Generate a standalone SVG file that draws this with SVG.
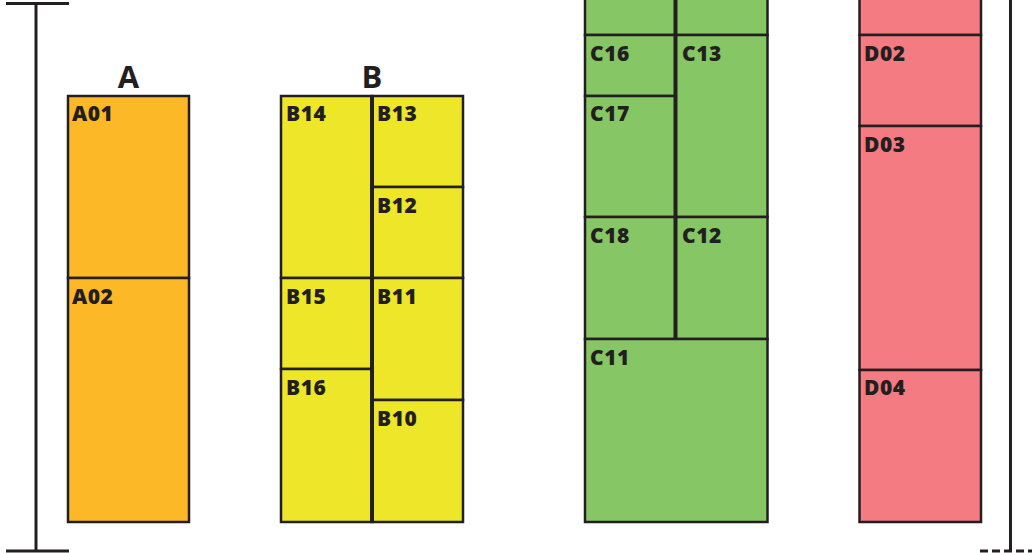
<svg xmlns="http://www.w3.org/2000/svg" width="1032" height="553" viewBox="0 0 1032 553">
<style>
.ln{stroke:#231f20;stroke-width:3;fill:none}
.div{stroke:#231f20;stroke-width:4;fill:none}
.cell{stroke:#231f20;stroke-width:2.5}
.a{fill:#fdb827}.b{fill:#ede629}.c{fill:#86c665}.d{fill:#f37b81}
.lbl{font-family:"Open Sans","Liberation Sans",sans-serif;font-weight:800;font-size:21px;fill:#231f20;letter-spacing:0.5px}
.hdr{font-family:"Open Sans","Liberation Sans",sans-serif;font-weight:700;font-size:31px;fill:#231f20;text-anchor:middle}
</style>
<g id="scale">
<line class="ln" x1="6" y1="3.5" x2="69" y2="3.5"/>
<line class="ln" x1="36" y1="3.5" x2="36" y2="551"/>
<line class="ln" x1="6" y1="551" x2="69" y2="551"/>
<line class="ln" x1="1010.5" y1="0" x2="1010.5" y2="551"/>
<line class="ln" x1="980" y1="551" x2="1032" y2="551" stroke-dasharray="8 4"/>
</g>
<g id="headers">
<text class="hdr" x="128.5" y="88">A</text>
<text class="hdr" x="372" y="88">B</text>
</g>
<g id="A01"><rect class="cell a" x="68" y="96" width="121" height="182"/><text class="lbl" x="72" y="120.5">A01</text></g>
<g id="A02"><rect class="cell a" x="68" y="278" width="121" height="244"/><text class="lbl" x="72" y="303.5">A02</text></g>
<g id="B14"><rect class="cell b" x="281" y="96" width="91" height="182"/><text class="lbl" x="286" y="120.5">B14</text></g>
<g id="B15"><rect class="cell b" x="281" y="278" width="91" height="91"/><text class="lbl" x="286" y="303.5">B15</text></g>
<g id="B16"><rect class="cell b" x="281" y="369" width="91" height="153"/><text class="lbl" x="286" y="394.5">B16</text></g>
<g id="B13"><rect class="cell b" x="372" y="96" width="91" height="91"/><text class="lbl" x="377" y="120.5">B13</text></g>
<g id="B12"><rect class="cell b" x="372" y="187" width="91" height="91"/><text class="lbl" x="377" y="212.5">B12</text></g>
<g id="B11"><rect class="cell b" x="372" y="278" width="91" height="122"/><text class="lbl" x="377" y="303.5">B11</text></g>
<g id="B10"><rect class="cell b" x="372" y="400" width="91" height="122"/><text class="lbl" x="377" y="425.5">B10</text></g>
<g id="C-top-left"><rect class="cell c" x="585" y="-10" width="90.5" height="45"/></g>
<g id="C-top-right"><rect class="cell c" x="675.5" y="-10" width="92" height="45"/></g>
<g id="C16"><rect class="cell c" x="585" y="35" width="90.5" height="61"/><text class="lbl" x="590" y="60.5">C16</text></g>
<g id="C17"><rect class="cell c" x="585" y="96" width="90.5" height="121"/><text class="lbl" x="590" y="120.5">C17</text></g>
<g id="C18"><rect class="cell c" x="585" y="217" width="90.5" height="122"/><text class="lbl" x="590" y="242.5">C18</text></g>
<g id="C13"><rect class="cell c" x="675.5" y="35" width="92" height="182"/><text class="lbl" x="682" y="60.5">C13</text></g>
<g id="C12"><rect class="cell c" x="675.5" y="217" width="92" height="122"/><text class="lbl" x="682" y="242.5">C12</text></g>
<g id="C11"><rect class="cell c" x="585" y="339" width="182.5" height="183"/><text class="lbl" x="590" y="364.5">C11</text></g>
<g id="D-top"><rect class="cell d" x="859.5" y="-10" width="121.5" height="45"/></g>
<g id="D02"><rect class="cell d" x="859.5" y="35" width="121.5" height="91"/><text class="lbl" x="864" y="60.5">D02</text></g>
<g id="D03"><rect class="cell d" x="859.5" y="126" width="121.5" height="244"/><text class="lbl" x="864" y="151.5">D03</text></g>
<g id="D04"><rect class="cell d" x="859.5" y="370" width="121.5" height="152"/><text class="lbl" x="864" y="394.5">D04</text></g>
<g id="connectors">
<line class="div" x1="372" y1="96" x2="372" y2="522"/>
<line class="div" x1="675.5" y1="0" x2="675.5" y2="339"/>
</g>
</svg>
